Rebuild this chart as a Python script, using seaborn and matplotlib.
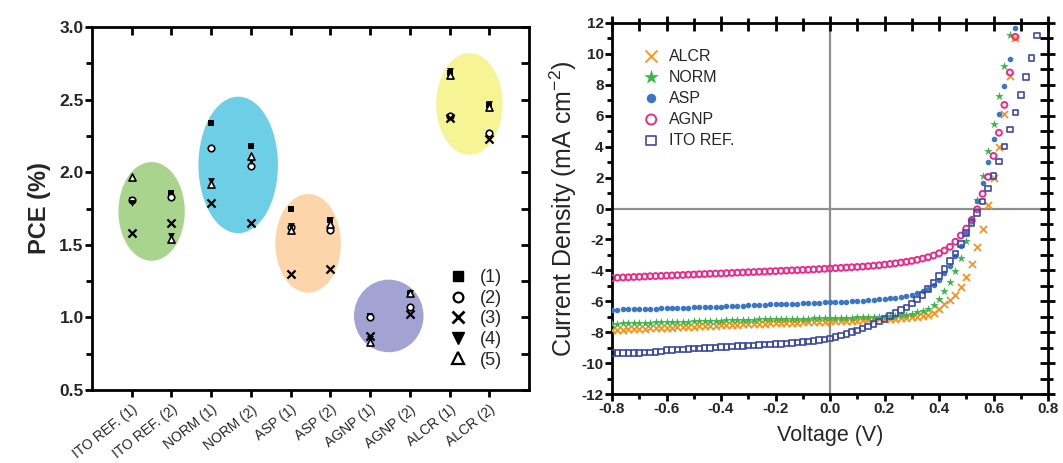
import numpy as np
import pandas as pd
import matplotlib
matplotlib.use("Agg")
import matplotlib.pyplot as plt
import seaborn as sns
from matplotlib.patches import Ellipse
from matplotlib.lines import Line2D
from matplotlib.ticker import MultipleLocator, FormatStrFormatter, FixedLocator

# ---------------- data: left panel (PCE) ----------------
categories = ["ITO REF. (1)", "ITO REF. (2)", "NORM (1)", "NORM (2)", "ASP (1)",
              "ASP (2)", "AGNP (1)", "AGNP (2)", "ALCR (1)", "ALCR (2)"]
pce_1 = [1.81, 1.86, 2.34, 2.18, 1.75, 1.67, 1.01, 1.16, 2.68, 2.46]
pce_2 = [1.81, 1.83, 2.17, 2.04, 1.62, 1.60, 1.00, 1.07, 2.39, 2.27]
pce_3 = [1.58, 1.65, 1.79, 1.65, 1.30, 1.33, 0.87, 1.02, 2.37, 2.23]
pce_4 = [1.79, 1.56, 1.94, 2.08, 1.63, 1.67, 0.85, 1.17, 2.70, 2.47]
pce_5 = [1.97, 1.54, 1.92, 2.11, 1.60, 1.64, 0.83, 1.17, 2.67, 2.45]
pce_labels = ["(1)", "(2)", "(3)", "(4)", "(5)"]

# ---------------- data: right panel (J-V) ----------------
voltage = [-0.80, -0.78, -0.76, -0.74, -0.72, -0.70, -0.68, -0.66, -0.64, -0.62,
           -0.60, -0.58, -0.56, -0.54, -0.52, -0.50, -0.48, -0.46, -0.44, -0.42,
           -0.40, -0.38, -0.36, -0.34, -0.32, -0.30, -0.28, -0.26, -0.24, -0.22,
           -0.20, -0.18, -0.16, -0.14, -0.12, -0.10, -0.08, -0.06, -0.04, -0.02,
           0.00, 0.02, 0.04, 0.06, 0.08, 0.10, 0.12, 0.14, 0.16, 0.18,
           0.20, 0.22, 0.24, 0.26, 0.28, 0.30, 0.32, 0.34, 0.36, 0.38,
           0.40, 0.42, 0.44, 0.46, 0.48, 0.50, 0.52, 0.54, 0.56, 0.58,
           0.60, 0.62, 0.64, 0.66, 0.68, 0.70, 0.72, 0.74, 0.76]

j_agnp = [-4.50, -4.48, -4.46, -4.45, -4.43, -4.42, -4.40, -4.38, -4.37, -4.36,
          -4.34, -4.33, -4.31, -4.30, -4.28, -4.27, -4.25, -4.24, -4.22, -4.21,
          -4.20, -4.18, -4.17, -4.15, -4.14, -4.12, -4.11, -4.09, -4.08, -4.06,
          -4.05, -4.03, -4.02, -4.00, -3.99, -3.97, -3.96, -3.94, -3.92, -3.90,
          -3.88, -3.86, -3.84, -3.82, -3.80, -3.78, -3.76, -3.73, -3.70, -3.67,
          -3.63, -3.59, -3.55, -3.50, -3.45, -3.39, -3.32, -3.24, -3.15, -3.04,
          -2.90, -2.72, -2.48, -2.15, -1.75, -1.30, -0.75, -0.05, 0.95, 2.05,
          3.40, 4.90, 6.70, 8.80, 11.10]

j_asp = [-6.55, -6.54, -6.53, -6.52, -6.51, -6.50, -6.49, -6.48, -6.47, -6.46,
         -6.45, -6.44, -6.43, -6.42, -6.41, -6.40, -6.39, -6.38, -6.37, -6.36,
         -6.35, -6.33, -6.32, -6.30, -6.29, -6.27, -6.26, -6.24, -6.23, -6.21,
         -6.20, -6.19, -6.17, -6.16, -6.15, -6.14, -6.12, -6.11, -6.10, -6.08,
         -6.07, -6.05, -6.04, -6.02, -6.00, -5.98, -5.96, -5.93, -5.90, -5.87,
         -5.84, -5.80, -5.76, -5.71, -5.65, -5.57, -5.47, -5.35, -5.18, -4.95,
         -4.62, -4.20, -3.70, -3.10, -2.40, -1.60, -0.60, 0.50, 1.66, 3.00,
         4.50, 6.10, 7.90, 9.70, 11.70]

j_norm = [-7.45, -7.44, -7.43, -7.42, -7.41, -7.40, -7.39, -7.38, -7.37, -7.36,
          -7.35, -7.34, -7.33, -7.32, -7.31, -7.30, -7.29, -7.28, -7.27, -7.26,
          -7.25, -7.24, -7.23, -7.22, -7.21, -7.20, -7.19, -7.18, -7.17, -7.16,
          -7.15, -7.14, -7.14, -7.13, -7.13, -7.12, -7.12, -7.11, -7.11, -7.10,
          -7.10, -7.09, -7.08, -7.07, -7.06, -7.05, -7.04, -7.03, -7.02, -7.01,
          -7.00, -6.98, -6.95, -6.91, -6.86, -6.80, -6.72, -6.62, -6.48, -6.25,
          -5.85, -5.35, -4.75, -4.05, -3.20, -2.10, -0.85, 0.55, 2.10, 3.70,
          5.45, 7.30, 9.20, 11.25]

j_alcr = [-7.85, -7.84, -7.83, -7.81, -7.80, -7.78, -7.77, -7.76, -7.74, -7.73,
          -7.71, -7.70, -7.68, -7.67, -7.65, -7.64, -7.62, -7.61, -7.59, -7.58,
          -7.56, -7.55, -7.53, -7.52, -7.50, -7.49, -7.47, -7.46, -7.44, -7.43,
          -7.42, -7.41, -7.40, -7.39, -7.38, -7.36, -7.35, -7.34, -7.32, -7.31,
          -7.30, -7.29, -7.28, -7.27, -7.26, -7.25, -7.24, -7.22, -7.20, -7.18,
          -7.16, -7.14, -7.12, -7.10, -7.07, -7.04, -7.00, -6.94, -6.86, -6.75,
          -6.50, -6.18, -5.90, -5.60, -5.10, -4.45, -3.60, -2.50, -1.30, 0.25,
          2.00, 4.00, 6.10, 8.60, 11.00]

j_ito = [-9.35, -9.35, -9.34, -9.34, -9.33, -9.33, -9.32, -9.32, -9.28, -9.24,
         -9.17, -9.15, -9.13, -9.11, -9.09, -9.07, -9.05, -9.03, -9.01, -8.99,
         -8.97, -8.95, -8.93, -8.91, -8.89, -8.87, -8.85, -8.83, -8.81, -8.79,
         -8.77, -8.75, -8.73, -8.70, -8.67, -8.64, -8.60, -8.56, -8.52, -8.47,
         -8.42, -8.33, -8.23, -8.12, -8.00, -7.89, -7.77, -7.63, -7.48, -7.32,
         -7.15, -6.97, -6.77, -6.58, -6.40, -6.15, -5.90, -5.60, -5.20, -4.80,
         -4.35, -3.90, -3.40, -2.90, -2.30, -1.60, -0.95, -0.30, 0.45, 1.30,
         2.10, 3.05, 4.00, 5.10, 6.20, 7.35, 8.50, 9.75, 11.20]

# ---------------- style ----------------
sns.set_theme(style="ticks")
plt.rcParams["font.family"] = ["Liberation Sans", "DejaVu Sans"]
plt.rcParams["axes.unicode_minus"] = False

W, H = 1063, 463
fig = plt.figure(figsize=(W / 100, H / 100), dpi=100)
rectL = [92 / W, 1 - 390 / H, (529 - 92) / W, (390 - 27) / H]
rectR = [612 / W, 1 - 394 / H, (1048 - 612) / W, (394 - 23) / H]
axL = fig.add_axes(rectL)
axR = fig.add_axes(rectR)


def frame(ax):
    for s in ax.spines.values():
        s.set_linewidth(2.0)
        s.set_color("black")


def mirror_ticks(rect, xlim, ylim, xloc, yloc):
    """Independent overlay axes carrying inward top/right ticks."""
    ov = fig.add_axes(rect, facecolor="none")
    ov.set_zorder(5)
    ov.set_xlim(*xlim)
    ov.set_ylim(*ylim)
    ov.xaxis.set_major_locator(xloc)
    ov.yaxis.set_major_locator(yloc)
    ov.tick_params(which="both", bottom=False, left=False, top=True, right=True,
                   labelbottom=False, labelleft=False, labeltop=False,
                   labelright=False, direction="in", length=5.5, width=2,
                   color="black")
    for s in ov.spines.values():
        s.set_visible(False)
    ov.grid(False)
    return ov


# ================= LEFT PANEL =================
ellipses = [  # (cx, cy, w, h, colour)
    (0.5, 1.73, 1.67, 0.68, "#a9d48d"),
    (2.68, 2.05, 2.0, 0.94, "#6dcfe6"),
    (4.44, 1.51, 1.65, 0.68, "#fcd6aa"),
    (6.47, 1.01, 1.75, 0.50, "#a2a2d3"),
    (8.5, 2.47, 1.67, 0.70, "#f6f494"),
]
for cx, cy, w, h, c in ellipses:
    axL.add_patch(Ellipse((cx, cy), w, h, facecolor=c, edgecolor="none", zorder=0))

series = [pce_1, pce_2, pce_3, pce_4, pce_5]
mstyles = [
    dict(marker="s", color="black", s=22, linewidth=0),
    dict(marker="o", facecolor="white", edgecolor="black", s=22, linewidth=1.2),
    dict(marker="x", color="black", s=34, linewidth=1.6),
    dict(marker="v", color="black", s=24, linewidth=0),
    dict(marker="^", facecolor="white", edgecolor="black", s=26, linewidth=1.2),
]
for vals, st in zip(series, mstyles):
    sns.scatterplot(x=categories, y=vals, ax=axL, zorder=3, legend=False, **st)

axL.set_xlim(-1, 10)
axL.set_ylim(0.5, 3.0)
axL.yaxis.set_major_locator(MultipleLocator(0.5))
axL.yaxis.set_minor_locator(MultipleLocator(0.25))
axL.yaxis.set_major_formatter(FormatStrFormatter("%.1f"))
axL.tick_params(axis="both", which="major", direction="out", length=5, width=2,
                color="black")
axL.tick_params(axis="y", which="minor", direction="out", length=4, width=2,
                color="black")
axL.tick_params(axis="y", labelsize=12.5, pad=1)
for t in axL.get_yticklabels():
    t.set_fontweight("bold")
axL.set_xticks(range(len(categories)))
axL.set_xticklabels(categories, rotation=38, ha="right", rotation_mode="anchor",
                    fontsize=10)
axL.tick_params(axis="x", pad=4)
axL.set_xlabel("")
axL.set_ylabel("PCE (%)", fontsize=17, fontweight="bold", labelpad=6)
frame(axL)
mirror_ticks(rectL, (-1, 10), (0.5, 3.0),
             FixedLocator(list(range(len(categories)))), MultipleLocator(0.25))

handlesL = [
    Line2D([], [], marker="s", color="black", linestyle="none", markersize=7),
    Line2D([], [], marker="o", markerfacecolor="white", markeredgecolor="black",
           markeredgewidth=1.6, linestyle="none", markersize=7),
    Line2D([], [], marker="x", color="black", markeredgewidth=2, linestyle="none",
           markersize=9),
    Line2D([], [], marker="v", color="black", linestyle="none", markersize=8),
    Line2D([], [], marker="^", markerfacecolor="white", markeredgecolor="black",
           markeredgewidth=1.6, linestyle="none", markersize=8),
]
axL.legend(handlesL, pce_labels, loc="lower right", bbox_to_anchor=(0.975, 0.014),
           frameon=False, fontsize=13, labelspacing=0.2, handletextpad=0.6,
           handlelength=1.2)

# ================= RIGHT PANEL =================
axR.axhline(0, color="#8e8e8e", lw=1.6, zorder=1)
axR.axvline(0, color="#8e8e8e", lw=1.6, zorder=1)

sns.scatterplot(x=voltage[:len(j_alcr)], y=j_alcr, ax=axR, marker="x",
                color="#f7941d", s=26, linewidth=1.3, label="ALCR", zorder=3)
sns.scatterplot(x=voltage[:len(j_norm)], y=j_norm, ax=axR, marker="*",
                color="#3cb54a", s=42, linewidth=0, label="NORM", zorder=3)
sns.scatterplot(x=voltage[:len(j_asp)], y=j_asp, ax=axR, marker="o",
                color="#3a78c6", s=16, linewidth=0, label="ASP", zorder=3)
sns.scatterplot(x=voltage[:len(j_agnp)], y=j_agnp, ax=axR, marker="o",
                facecolor="none", edgecolor="#ec2a89", s=18, linewidth=1.4,
                label="AGNP", zorder=3)
sns.scatterplot(x=voltage[:len(j_ito)], y=j_ito, ax=axR, marker="s",
                facecolor="none", edgecolor="#3d4aa6", s=16, linewidth=1.2,
                label="ITO REF.", zorder=3)

axR.set_xlim(-0.8, 0.8)
axR.set_ylim(-12, 12)
axR.xaxis.set_major_locator(MultipleLocator(0.2))
axR.xaxis.set_minor_locator(MultipleLocator(0.1))
axR.yaxis.set_major_locator(MultipleLocator(2))
axR.yaxis.set_minor_locator(MultipleLocator(1))
axR.xaxis.set_major_formatter(FormatStrFormatter("%.1f"))
axR.tick_params(axis="both", which="major", direction="out", length=5, width=2,
                labelsize=11, pad=1, color="black")
axR.tick_params(axis="both", which="minor", direction="out", length=3.5, width=2,
                color="black")
axR.tick_params(axis="both", which="both", top=True, right=True)
for t in axR.get_xticklabels() + axR.get_yticklabels():
    t.set_fontweight("bold")
axR.set_xlabel("Voltage (V)", fontsize=15.5, labelpad=6)
axR.set_ylabel("Current Density (mA cm$^{\\mathregular{-2}}$)", fontsize=18,
               labelpad=2)
frame(axR)
mirror_ticks(rectR, (-0.8, 0.8), (-12, 12), MultipleLocator(0.1),
             MultipleLocator(1))

axR.legend(loc="upper left", bbox_to_anchor=(0.035, 0.97), frameon=False,
           fontsize=11.5, labelspacing=0.38, handletextpad=0.5,
           markerscale=1.7, handlelength=1.2)

fig.savefig("out.png", dpi=100)
